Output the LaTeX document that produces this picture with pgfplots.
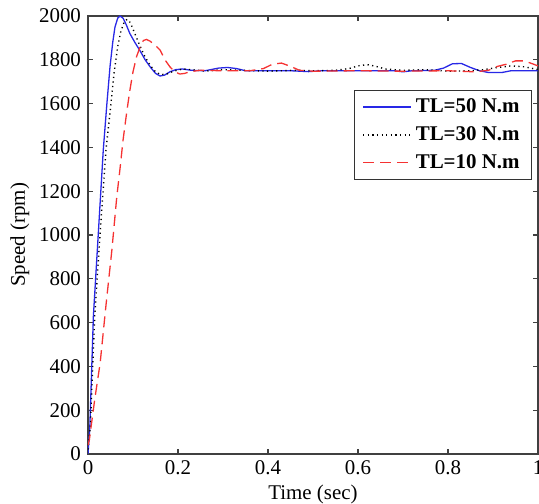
\documentclass[border=0pt]{standalone}
\usepackage{fontspec}
\setmainfont{Liberation Serif}
\usepackage{pgfplots}
\pgfplotsset{compat=1.18}

\definecolor{tlblue}{RGB}{40,40,230}
\definecolor{tlred}{RGB}{245,50,50}

\begin{document}
\begin{tikzpicture}
\begin{axis}[
  scale only axis, width=225bp, height=219bp,
  xmin=0, xmax=1, ymin=0, ymax=2000,
  xtick={0,0.2,0.4,0.6,0.8,1},
  ytick={0,200,...,2000},
  tick align=inside, major tick length=2.6bp,
  axis line style={draw=black!75, line width=0.8pt},
  tick style={draw=black!75, line width=0.6pt},
  /pgf/number format/assume math mode=true,
  /pgf/number format/1000 sep={},
  tick label style={font=\fontsize{10.5}{12}\selectfont},
  label style={font=\fontsize{10.5}{12}\selectfont},
  xlabel={Time (sec)}, ylabel={Speed (rpm)},
  xlabel style={yshift=2bp}, ylabel style={yshift=-2bp},
  legend style={at={(rel axis cs:0.987,0.831)}, anchor=north east,
    draw=black!80, line width=0.6pt, font=\bfseries\fontsize{10.5}{13}\selectfont,
    inner xsep=4bp, inner ysep=2bp, row sep=1.5bp},
  legend cell align=left,
  legend image code/.code={\draw[#1] (0bp,0bp) -- (24bp,0bp);},
]
\addplot[tlblue, line width=0.65pt] coordinates {
(0,0) (0.004,120) (0.012,630) (0.023,1010) (0.034,1390) (0.042,1600) (0.049,1770)
(0.055,1880) (0.060,1950) (0.066,1990) (0.071,2000) (0.078,1990) (0.085,1960)
(0.093,1920) (0.104,1880) (0.116,1840) (0.127,1800) (0.138,1768) (0.150,1738)
(0.160,1726) (0.170,1730) (0.182,1745) (0.195,1755) (0.210,1758) (0.230,1752)
(0.26,1750) (0.29,1762) (0.31,1765) (0.33,1760) (0.35,1750) (0.40,1750)
(0.45,1750) (0.49,1746) (0.52,1750) (0.68,1750) (0.70,1745) (0.72,1750)
(0.77,1752) (0.79,1762) (0.81,1782) (0.83,1783) (0.85,1765) (0.87,1750)
(0.89,1742) (0.92,1742) (0.94,1750) (1.0,1750)};
\addlegendentry{TL=50 N.m}
\addplot[black, line width=0.7pt, dash pattern=on 0.6bp off 1.7bp] coordinates {
(0,20) (0.005,120) (0.015,630) (0.027,1010) (0.040,1390) (0.049,1560) (0.058,1740)
(0.066,1860) (0.073,1930) (0.080,1970) (0.087,1985) (0.094,1970) (0.102,1930)
(0.112,1880) (0.125,1820) (0.138,1775) (0.150,1745) (0.162,1732) (0.175,1735)
(0.19,1748) (0.21,1758) (0.23,1755) (0.26,1748) (0.30,1755) (0.34,1752)
(0.40,1748) (0.46,1752) (0.50,1750) (0.55,1752) (0.58,1760) (0.60,1772)
(0.62,1778) (0.64,1770) (0.66,1758) (0.70,1752) (0.75,1755) (0.80,1748)
(0.85,1750) (0.88,1755) (0.91,1765) (0.94,1772) (0.97,1768) (1.0,1755)};
\addlegendentry{TL=30 N.m}
\addplot[tlred, line width=0.65pt, dash pattern=on 5.5bp off 3bp] coordinates {
(0,40) (0.003,65) (0.015,250) (0.027,415) (0.040,680) (0.053,930) (0.064,1175)
(0.071,1300) (0.078,1435) (0.086,1560) (0.093,1660) (0.100,1745) (0.108,1815)
(0.116,1860) (0.123,1888) (0.130,1893) (0.138,1885) (0.150,1865) (0.160,1845)
(0.171,1800) (0.182,1768) (0.193,1745) (0.204,1735) (0.215,1738) (0.227,1746)
(0.25,1752) (0.30,1750) (0.36,1750) (0.39,1760) (0.41,1780) (0.43,1785)
(0.45,1770) (0.47,1752) (0.50,1748) (0.60,1750) (0.70,1748) (0.80,1750)
(0.86,1745) (0.89,1752) (0.91,1770) (0.93,1780) (0.95,1795) (0.97,1795)
(0.99,1780) (1.0,1772)};
\addlegendentry{TL=10 N.m}
\end{axis}
\pgfresetboundingbox
\path ([shift={(-44bp,-25bp)}]current axis.south west) rectangle ([shift={(0.5bp,8bp)}]current axis.north east);
\end{tikzpicture}
\end{document}
